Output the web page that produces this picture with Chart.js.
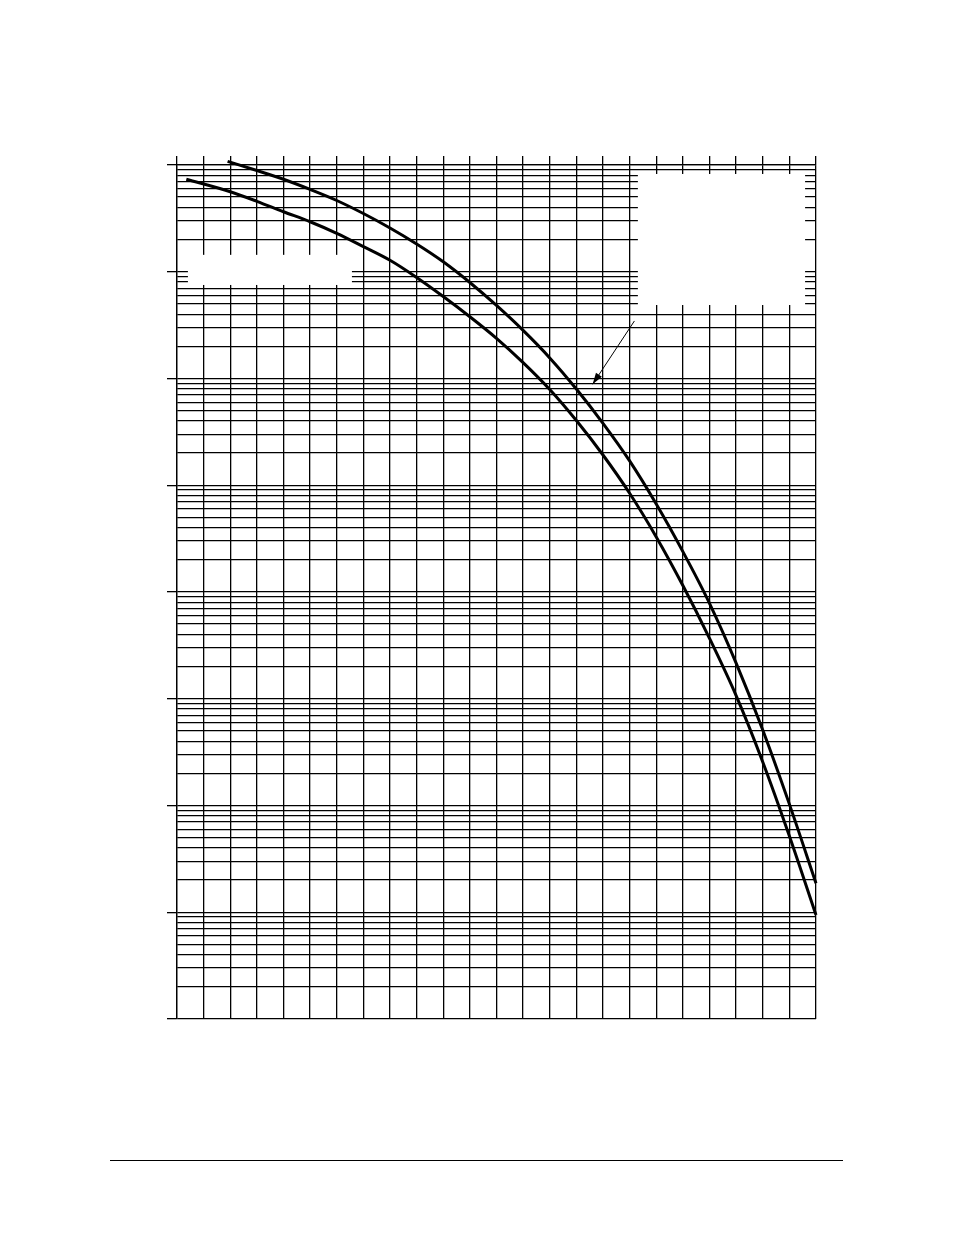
<!DOCTYPE html>
<html>
<head>
<meta charset="utf-8">
<title>chart</title>
<script src="https://cdn.jsdelivr.net/npm/chart.js@4/dist/chart.umd.min.js"></script>
<style>
  html, body { margin: 0; padding: 0; background: #fff; }
  #wrap { position: relative; width: 954px; height: 1235px; }
  #footer-rule { position: absolute; left: 110px; top: 1160px; width: 733px; height: 0; border-top: 1.5px solid #000; }
</style>
</head>
<body>
<div id="wrap">
  <canvas id="chart" width="954" height="1235"></canvas>
  <div id="footer-rule"></div>
</div>
<script>
// x grid (no labels on the sheet) - 24 divisions
var xMin = 0;
var xMax = 24;

// upper curve
var upperX = [1.9, 3, 4, 5, 6, 7, 8, 9, 10, 11, 12, 13, 14, 15, 16, 17, 18, 19, 20, 21, 22, 23, 24];
var upperY = [1.08e8, 8.88e7, 7.35e7, 5.90e7, 4.65e7, 3.51e7, 2.57e7, 1.82e7, 1.24e7, 7.93e6, 4.83e6, 2.82e6, 1.56e6,
              7.97e5, 3.80e5, 1.69e5, 6.67e4, 2.39e4, 7.84e3, 2.16e3, 510, 103, 18.7];

// lower curve
var lowerX = [0.35, 2, 3, 4, 5, 6, 7, 8, 9, 10, 11, 12, 13, 14, 15, 16, 17, 18, 19, 20, 21, 22, 23, 24];
var lowerY = [7.35e7, 5.62e7, 4.57e7, 3.65e7, 2.94e7, 2.29e7, 1.72e7, 1.28e7, 8.84e6, 5.86e6, 3.79e6, 2.38e6, 1.41e6,
              7.89e5, 4.04e5, 1.92e5, 8.41e4, 3.28e4, 1.15e4, 3.68e3, 1.07e3, 256, 51.8, 9.42];

// log grid: 1..9 x 10^n, decades 10^0 .. 10^8
var decades = [0, 1, 2, 3, 4, 5, 6, 7, 8];
var mantissas = [1, 2, 3, 4, 5, 6, 7, 8, 9];

// blank label boxes + arrow, in data units
var boxes = [
  { x0: 0.41, x1: 6.57, y0: 1.44e7, y1: 7.52e6 },
  { x0: 17.31, x1: 23.59, y0: 8.24e7, y1: 4.88e6 }
];
var arrowFrom = { x: 17.18, y: 3.46e6 };
var arrowTo = { x: 15.61, y: 8.83e5 };

function pts(xs, ys) {
  var out = [];
  for (var i = 0; i < xs.length; i++) out.push({ x: xs[i], y: ys[i] });
  return out;
}

var gridValues = [];
decades.forEach(function (d) {
  mantissas.forEach(function (m) {
    if (d == 8 && m > 1) return;
    gridValues.push(m * Math.pow(10, d));
  });
});

var extras = {
  id: 'extras',
  beforeDatasetsDraw: function (chart) {
    var ctx = chart.ctx, xs = chart.scales.x, ys = chart.scales.y;
    ctx.save();
    ctx.fillStyle = '#fff';
    boxes.forEach(function (b) {
      var px0 = xs.getPixelForValue(b.x0), px1 = xs.getPixelForValue(b.x1);
      var py0 = ys.getPixelForValue(b.y0), py1 = ys.getPixelForValue(b.y1);
      ctx.fillRect(px0, py0, px1 - px0, py1 - py0);
    });
    ctx.restore();
  },
  afterDatasetsDraw: function (chart) {
    var ctx = chart.ctx, xs = chart.scales.x, ys = chart.scales.y;
    var x0 = xs.getPixelForValue(arrowFrom.x), y0 = ys.getPixelForValue(arrowFrom.y);
    var x1 = xs.getPixelForValue(arrowTo.x), y1 = ys.getPixelForValue(arrowTo.y);
    var a = Math.atan2(y1 - y0, x1 - x0);
    ctx.save();
    ctx.strokeStyle = '#000';
    ctx.fillStyle = '#000';
    ctx.lineWidth = 1;
    ctx.beginPath();
    ctx.moveTo(x0, y0);
    ctx.lineTo(x1, y1);
    ctx.stroke();
    ctx.beginPath();
    ctx.moveTo(x1, y1);
    ctx.lineTo(x1 - 12 * Math.cos(a - 0.3), y1 - 12 * Math.sin(a - 0.3));
    ctx.lineTo(x1 - 12 * Math.cos(a + 0.3), y1 - 12 * Math.sin(a + 0.3));
    ctx.closePath();
    ctx.fill();
    ctx.restore();
  }
};

new Chart(document.getElementById('chart'), {
  type: 'line',
  data: {
    datasets: [
      { data: pts(upperX, upperY), borderColor: '#000', borderWidth: 3, pointRadius: 0, cubicInterpolationMode: 'monotone', clip: false, fill: false },
      { data: pts(lowerX, lowerY), borderColor: '#000', borderWidth: 3, pointRadius: 0, cubicInterpolationMode: 'monotone', clip: false, fill: false }
    ]
  },
  options: {
    responsive: false,
    animation: false,
    events: [],
    layout: { autoPadding: false, padding: { left: 167, right: 138, top: 156, bottom: 216 } },
    plugins: { legend: { display: false }, tooltip: { enabled: false } },
    scales: {
      x: {
        type: 'linear',
        position: 'top',
        min: xMin,
        max: xMax,
        ticks: { display: false, stepSize: 1 },
        grid: { color: '#000', lineWidth: 1.3, tickLength: 9, tickColor: '#000' },
        border: { color: '#000', width: 1.3 },
        afterFit: function (s) { s.height = 9; }
      },
      y: {
        type: 'logarithmic',
        min: 1,
        max: 1e8,
        ticks: { display: false },
        afterBuildTicks: function (s) {
          s.ticks = gridValues.map(function (v) { return { value: v }; });
        },
        grid: {
          color: '#000',
          lineWidth: 1.3,
          tickLength: 10,
          tickColor: function (c) {
            if (!c.tick) return 'rgba(0,0,0,0)';
            var l = Math.log10(c.tick.value);
            return Math.abs(l - Math.round(l)) < 1e-9 ? '#000' : 'rgba(0,0,0,0)';
          }
        },
        border: { color: '#000', width: 1.3 },
        afterFit: function (s) { s.width = 10; }
      }
    }
  },
  plugins: [extras]
});
</script>
</body>
</html>
